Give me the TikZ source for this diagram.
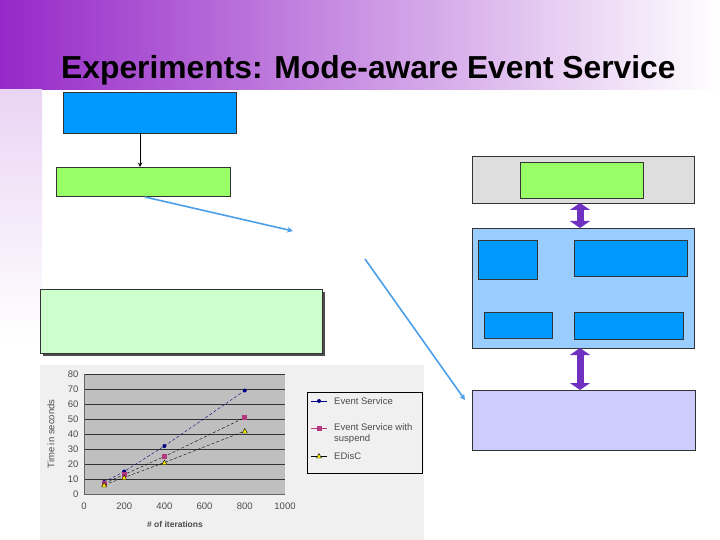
\documentclass[tikz,border=0pt]{standalone}
\usepackage{fontspec}
\setmainfont{Liberation Sans}
\usetikzlibrary{arrows.meta}
\begin{document}
\begin{tikzpicture}[x=1pt,y=-1pt,
  box/.style={draw=black!80,line width=0.8pt},
  blu/.style={->,>=stealth,line width=1.6pt,color={rgb,255:red,74;green,159;blue,232}},
  dbl/.style={{Triangle[width=20pt,length=7pt]}-{Triangle[width=20pt,length=7pt]},line width=7pt,color={rgb,255:red,112;green,48;blue,192}},
  tk/.style={font=\fontsize{9.5}{11}\selectfont,text=black!70}]
\useasboundingbox (0,0) rectangle (720,540);
\definecolor{bluebox}{RGB}{0,153,255}
\definecolor{greenbox}{RGB}{153,255,102}
\definecolor{lbl}{RGB}{153,204,255}
\definecolor{lav}{RGB}{204,204,255}
\definecolor{pale}{RGB}{204,255,204}
\definecolor{purp}{RGB}{150,40,200}
% background
\shade[left color=purp, right color=white] (0,0) rectangle (720,90);
\shade[top color=purp!20, bottom color=white] (0,90) rectangle (42,340);
\node[anchor=base west,font=\bfseries\fontsize{31.8}{36}\selectfont,inner sep=0pt] (title) at (61,79) {Experiments: Mode-aware Event Service};
% left
\node[box,fill=bluebox,minimum width=173pt,minimum height=41pt,inner sep=0pt] (b1) at (149.5,112.5) {};
\node[box,fill=greenbox,minimum width=174pt,minimum height=29pt,inner sep=0pt] (g1) at (143,181.5) {};
\coordinate (k1) at (140,133); \coordinate (k2) at (140,167);
\draw[->,>=stealth,line width=1pt] (k1) -- (k2);
\coordinate (a1s) at (145,197); \coordinate (a1e) at (293,231);
\coordinate (a2s) at (365,259); \coordinate (a2e) at (465,400);
\draw[blu] (a1s) -- (a1e);
\draw[blu] (a2s) -- (a2e);
\fill[black!70] (43,292) rectangle (325,356);
\node[box,fill=pale,minimum width=282pt,minimum height=64pt,inner sep=0pt] (pg) at (181,321) {};
% chart
\fill[black!6] (40,365) rectangle (424,540);
\fill[black!25] (84,374) rectangle (285,494);
\foreach \v in {10,20,...,80} \draw[black!80,line width=0.4pt] (84,{494-1.5*\v}) -- (285,{494-1.5*\v});
\foreach \v in {0,10,...,80} \node[tk,anchor=east] at (82,{494-1.5*\v}) {\v};
\foreach \v in {0,200,...,1000} \node[tk,anchor=north] at ({84+0.201*\v},499) {\v};
\draw[black!60] (84,374) -- (84,494) -- (285,494);
\node[tk,rotate=90] (yl) at (51,434) {Time in seconds};
\node[tk,font=\bfseries\fontsize{8.5}{10}\selectfont] (xl) at (175,524) {\# of iterations};
\draw[blue!50!black,densely dashed] (104.1,482) -- (124.2,471.5) -- (164.4,446) -- (244.8,390.5);
\foreach \x/\y in {104.1/482,124.2/471.5,164.4/446,244.8/390.5} \fill[blue!50!black] (\x,\y) circle (2);
\draw[black,densely dashed] (104.1,483.5) -- (124.2,474.5) -- (164.4,456.5) -- (244.8,417.5);
\foreach \x/\y in {104.1/483.5,124.2/474.5,164.4/456.5,244.8/417.5} \fill[magenta!70!black] (\x-2.5,\y-2.5) rectangle (\x+2.5,\y+2.5);
\draw[black,densely dashed] (104.1,485) -- (124.2,477.5) -- (164.4,462.5) -- (244.8,431);
\foreach \x/\y in {104.1/485,124.2/477.5,164.4/462.5,244.8/431} \draw[fill=yellow] (\x,\y-2.5) -- (\x+2.5,\y+2) -- (\x-2.5,\y+2) -- cycle;
\draw[fill=black!6] (307,392) rectangle (422,473);
\draw[blue!50!black] (311,401) -- (327,401); \fill[blue!50!black] (319,401) circle (2);
\node[tk,anchor=west,inner sep=1pt] at (333,401) {Event Service};
\draw[magenta!70!black] (311,428) -- (327,428); \fill[magenta!70!black] (316.5,425.5) rectangle (321.5,430.5);
\node[tk,anchor=west,align=left,inner sep=1pt] at (333,434) {Event Service with\\suspend};
\draw (311,456) -- (327,456); \draw[fill=yellow] (319,453.5) -- (321.5,458) -- (316.5,458) -- cycle;
\node[tk,anchor=west,inner sep=1pt] at (333,456) {EDisC};
% right
\node[box,fill=black!13,minimum width=222pt,minimum height=47pt,inner sep=0pt] (gr) at (583,179.5) {};
\node[box,fill=greenbox,minimum width=123pt,minimum height=36pt,inner sep=0pt] (g2) at (581.5,180) {};
\node[box,fill=lbl,minimum width=222pt,minimum height=120pt,inner sep=0pt] (lb) at (583,288) {};
\node[box,fill=bluebox,minimum width=59pt,minimum height=39pt,inner sep=0pt] (i1) at (507.5,259.5) {};
\node[box,fill=bluebox,minimum width=113pt,minimum height=36pt,inner sep=0pt] (i2) at (630.5,258) {};
\node[box,fill=bluebox,minimum width=68pt,minimum height=26pt,inner sep=0pt] (i3) at (518,325) {};
\node[box,fill=bluebox,minimum width=109pt,minimum height=27pt,inner sep=0pt] (i4) at (628.5,325.5) {};
\node[box,fill=lav,minimum width=223pt,minimum height=60pt,inner sep=0pt] (lv) at (583.5,420) {};
\coordinate (d1) at (580,203); \coordinate (d2) at (580,228);
\coordinate (d3) at (580,348); \coordinate (d4) at (580,390);
\draw[dbl] (d1) -- (d2);
\draw[dbl] (d3) -- (d4);
\end{tikzpicture}
\end{document}
